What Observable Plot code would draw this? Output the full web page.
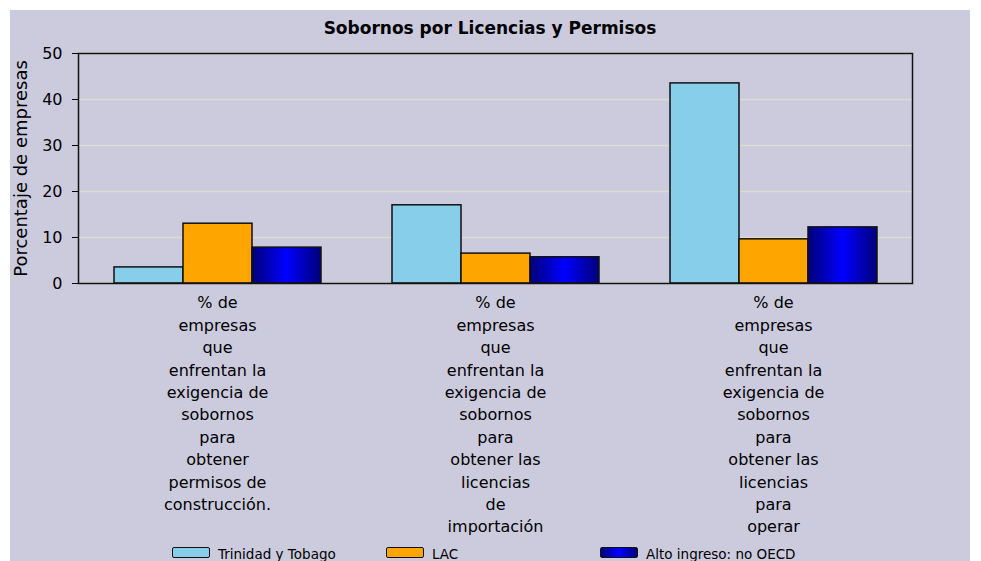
<!DOCTYPE html>
<html>
<head>
<meta charset="utf-8">
<script src="https://cdn.jsdelivr.net/npm/d3@7"></script>
<script src="https://cdn.jsdelivr.net/npm/@observablehq/plot@0.6"></script>
<style>
  html, body { margin: 0; padding: 0; background: #ffffff; overflow: hidden; }
  #card { position: absolute; left: 10px; top: 10px; width: 960px; height: 560px; background: #cbcbdd; font-family: "DejaVu Sans", sans-serif; }
  #title { height: 33px; line-height: 36px; text-align: center; font-weight: bold; font-size: 17px; color: #000; }
  #chart svg { display: block; }
  #legend { position: absolute; left: 162px; top: 536px; display: flex; font-size: 13.5px; color: #000; }
  .item { width: 214px; display: flex; align-items: flex-start; }
  .sw { width: 36px; height: 9px; border: 1.5px solid #111; border-radius: 2px; margin-right: 8px; margin-top: 1px; }
  .lab { line-height: 14px; margin-top: 1px; white-space: nowrap; }
</style>
</head>
<body>
<div id="card">
  <div id="title">Sobornos por Licencias y Permisos</div>
  <div id="chart"></div>
  <div id="legend"></div>
</div>
<script>
const categoryLabels = [
  "% de\nempresas\nque\nenfrentan la\nexigencia de\nsobornos\npara\nobtener\npermisos de\nconstrucción.",
  "% de\nempresas\nque\nenfrentan la\nexigencia de\nsobornos\npara\nobtener las\nlicencias\nde\nimportación",
  "% de\nempresas\nque\nenfrentan la\nexigencia de\nsobornos\npara\nobtener las\nlicencias\npara\noperar"
];
const series = ["Trinidad y Tobago", "LAC", "Alto ingreso: no OECD"];
const ttValues = [3.5, 17.0, 43.5];
const lacValues = [13.0, 6.5, 9.6];
const oecdValues = [7.8, 5.7, 12.2];
const yTicks = [0, 10, 20, 30, 40, 50];
const seriesColors = ["#87ceeb", "#ffa500", "url(#oecdGrad)"];
const legendSwatches = ["#87ceeb", "#ffa500", "linear-gradient(to right, #00007a, #0000ff, #00007a)"];

const valuesBySeries = [ttValues, lacValues, oecdValues];
const data = [];
categoryLabels.forEach((c, i) => {
  series.forEach((s, j) => data.push({category: c, series: s, value: valuesBySeries[j][i]}));
});

const chart = Plot.plot({
  width: 960,
  height: 502,
  marginTop: 10,
  marginBottom: 262,
  marginLeft: 67,
  marginRight: 58,
  style: {background: "transparent", fontFamily: "DejaVu Sans, sans-serif", fontSize: "16px", color: "#000"},
  fx: {domain: categoryLabels, paddingInner: 0, paddingOuter: 0, label: null},
  x: {domain: series, paddingInner: 0, paddingOuter: 0.49, axis: null},
  y: {domain: [0, 50]},
  color: {domain: series, range: seriesColors},
  marks: [
    Plot.gridY(yTicks, {stroke: "#dddcd0", strokeOpacity: 1, strokeWidth: 1.5}),
    Plot.barY(data, {fx: "category", x: "series", y: "value", fill: "series", stroke: "#111", strokeWidth: 1.5, inset: 0}),
    Plot.frame({facet: "super", stroke: "#111", strokeWidth: 1.5}),
    Plot.axisY(yTicks, {tickSize: 6, tickPadding: 10, fontSize: 16, label: "Porcentaje de empresas", labelAnchor: "center", labelArrow: "none", labelOffset: 64}),
    Plot.axisFx({anchor: "bottom", tickSize: 0, tickPadding: 9, lineHeight: 1.4, fontSize: 16, label: null})
  ]
});

// gradient for the OECD bars
const ns = "http://www.w3.org/2000/svg";
const defs = document.createElementNS(ns, "defs");
const grad = document.createElementNS(ns, "linearGradient");
grad.setAttribute("id", "oecdGrad");
grad.setAttribute("x1", "0"); grad.setAttribute("x2", "1");
grad.setAttribute("y1", "0"); grad.setAttribute("y2", "0");
[["0", "#00007a"], ["0.5", "#0000ff"], ["1", "#00007a"]].forEach(([o, c]) => {
  const st = document.createElementNS(ns, "stop");
  st.setAttribute("offset", o); st.setAttribute("stop-color", c);
  grad.appendChild(st);
});
defs.appendChild(grad);
chart.insertBefore(defs, chart.firstChild);
document.getElementById("chart").appendChild(chart);

// y label font a bit larger
chart.querySelectorAll("[aria-label='y-axis label'] text").forEach(t => t.setAttribute("font-size", "18"));

const legend = document.getElementById("legend");
series.forEach((s, i) => {
  const item = document.createElement("div");
  item.className = "item";
  const sw = document.createElement("div");
  sw.className = "sw";
  sw.style.background = legendSwatches[i];
  const lab = document.createElement("div");
  lab.className = "lab";
  lab.textContent = s;
  item.appendChild(sw); item.appendChild(lab);
  legend.appendChild(item);
});
</script>
</body>
</html>
